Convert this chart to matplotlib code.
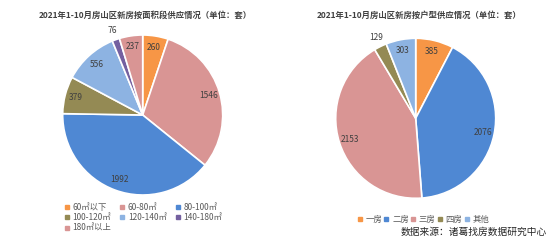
import matplotlib.pyplot as plt
import numpy as np
from matplotlib.lines import Line2D

plt.rcParams['font.family'] = ['Noto Sans CJK SC', 'DejaVu Sans']

# left chart: supply by floor area
area_labels = ["60㎡以下", "60-80㎡", "80-100㎡", "100-120㎡", "120-140㎡", "140-180㎡", "180㎡以上"]
area_values = [260, 1546, 1992, 379, 556, 76, 237]
area_colors = ["#F79646", "#D99594", "#4F88D3", "#948A54", "#8DB3E2", "#7460A0", "#D99594"]

# right chart: supply by unit type
type_labels = ["一房", "二房", "三房", "四房", "其他"]
type_values = [385, 2076, 2153, 129, 303]
type_colors = ["#F79646", "#4F88D3", "#D99594", "#948A54", "#8DB3E2"]

W, H = 554, 243
fig = plt.figure(figsize=(W / 100, H / 100), dpi=100)


def pie_axes(cx, cy, r):
    half = 1.25 * r
    return fig.add_axes([(cx - half) / W, (H - cy - half) / H, 2 * half / W, 2 * half / H])


def draw_pie(ax, values, colors, outside=()):
    ax.pie(values, colors=colors, startangle=90, counterclock=False,
           wedgeprops=dict(edgecolor="white", linewidth=1.2))
    total = sum(values)
    start = 90.0
    for i, v in enumerate(values):
        mid = np.deg2rad(start - v / total * 360 / 2)
        start -= v / total * 360
        d = 1.12 if i in outside else 0.86
        ax.text(d * np.cos(mid), d * np.sin(mid), str(v), ha="center", va="center",
                fontsize=6, color="#404040")
    ax.set_xlim(-1.25, 1.25)
    ax.set_ylim(-1.25, 1.25)
    ax.set_aspect("equal")
    ax.axis("off")


ax1 = pie_axes(142.7, 115, 80)
draw_pie(ax1, area_values, area_colors, outside=(5,))
ax2 = pie_axes(415.7, 118.3, 80)
draw_pie(ax2, type_values, type_colors, outside=(3,))

fig.text(145 / W, 1 - 15 / H, "2021年1-10月房山区新房按面积段供应情况（单位：套）",
         ha="center", va="center", fontsize=6, fontweight="bold", color="#404040")
fig.text(419 / W, 1 - 15 / H, "2021年1-10月房山区新房按户型供应情况（单位：套）",
         ha="center", va="center", fontsize=6, fontweight="bold", color="#404040")


def handles(colors):
    return [Line2D([], [], marker="s", linestyle="none", markersize=3, color=c) for c in colors]


# legend is filled column by column, reorder so it reads row by row
order = [0, 3, 6, 1, 4, 2, 5]
fig.legend([handles(area_colors)[i] for i in order], [area_labels[i] for i in order],
           ncol=3, frameon=False, fontsize=6,
           labelcolor="#595959", loc="upper left", bbox_to_anchor=(64 / W, 1 - 203 / H),
           handlelength=0.6, handletextpad=0.4, columnspacing=1.0, labelspacing=0.15,
           borderpad=0, borderaxespad=0)
fig.legend(handles(type_colors), type_labels, ncol=5, frameon=False, fontsize=6,
           labelcolor="#595959", loc="center left", bbox_to_anchor=(357 / W, 1 - 219 / H),
           handlelength=0.6, handletextpad=0.4, columnspacing=0.2,
           borderpad=0, borderaxespad=0)

fig.text(547 / W, 1 - 232 / H, "数据来源：诸葛找房数据研究中心", ha="right", va="center",
         fontsize=7, color="#262626")

fig.savefig("out.png", dpi=100)
